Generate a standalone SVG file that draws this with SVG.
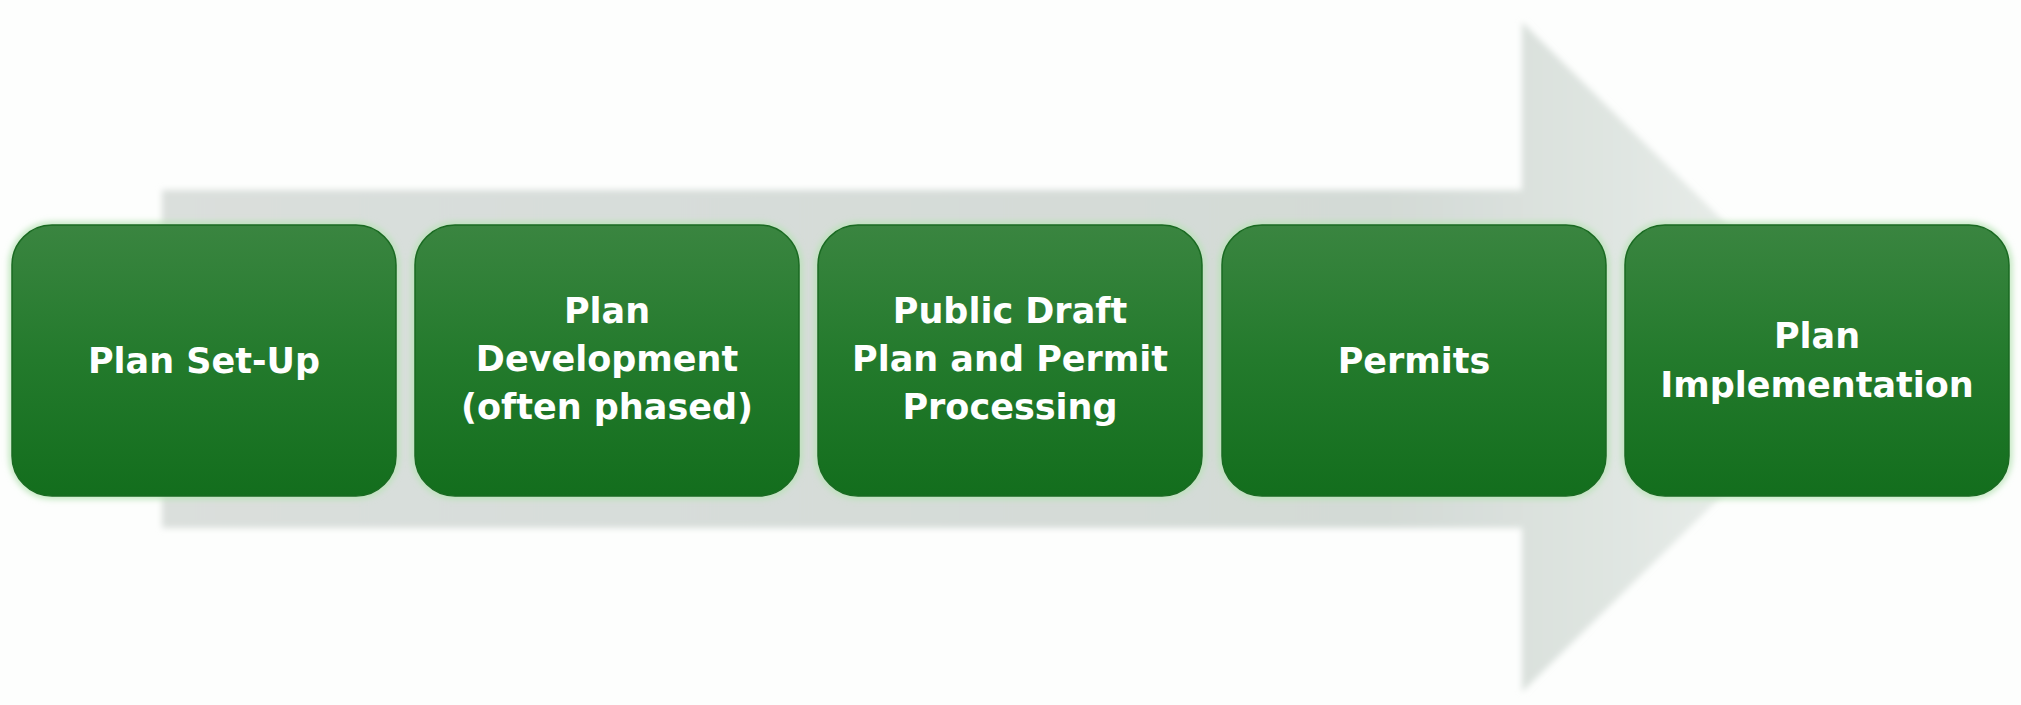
<svg xmlns="http://www.w3.org/2000/svg" width="2021" height="705" viewBox="0 0 2021 705">
  <defs>
    <linearGradient id="arrowGrad" x1="0" y1="0" x2="1" y2="0">
      <stop offset="0" stop-color="#dadfdc"/>
      <stop offset="0.72" stop-color="#d3dad6"/>
      <stop offset="0.85" stop-color="#dfe5e1"/>
      <stop offset="1" stop-color="#eef2ef"/>
    </linearGradient>
    <linearGradient id="boxGrad" x1="0" y1="0" x2="0" y2="1">
      <stop offset="0" stop-color="#3a8540"/>
      <stop offset="0.5" stop-color="#237a2c"/>
      <stop offset="1" stop-color="#136e1d"/>
    </linearGradient>
    <filter id="soft" x="-5%" y="-5%" width="110%" height="110%">
      <feGaussianBlur stdDeviation="3"/>
    </filter>
    <filter id="glow" x="-5%" y="-10%" width="110%" height="120%">
      <feGaussianBlur stdDeviation="3"/>
    </filter>
    <style>
      .glow { fill: none; stroke: #b7e3b5; stroke-width: 6; filter: url(#glow); }
      .box { fill: url(#boxGrad); stroke: #1a6a22; stroke-width: 1.5; }
      .lbl { font-family: "DejaVu Sans", "Liberation Sans", sans-serif; font-weight: bold; font-size: 35px; fill: #ffffff; text-anchor: middle; }
    </style>
  </defs>
  <rect x="0" y="0" width="2021" height="705" fill="#fdfefd"/>
  <g id="connectors">
    <path d="M162,190 L1522,190 L1522,22 L1862,358 L1522,692 L1522,528 L162,528 Z" fill="url(#arrowGrad)" filter="url(#soft)"/>
  </g>
  <g id="node1">
    <rect class="glow" x="12" y="225" width="384" height="271" rx="40"/>
    <rect class="box" x="12" y="225" width="384" height="271" rx="40"/>
    <text class="lbl" x="204" y="373">Plan Set-Up</text>
  </g>
  <g id="node2">
    <rect class="glow" x="415" y="225" width="384" height="271" rx="40"/>
    <rect class="box" x="415" y="225" width="384" height="271" rx="40"/>
    <text class="lbl" x="607" y="323">Plan</text>
    <text class="lbl" x="607" y="371">Development</text>
    <text class="lbl" x="607" y="419">(often phased)</text>
  </g>
  <g id="node3">
    <rect class="glow" x="818" y="225" width="384" height="271" rx="40"/>
    <rect class="box" x="818" y="225" width="384" height="271" rx="40"/>
    <text class="lbl" x="1010" y="323">Public Draft</text>
    <text class="lbl" x="1010" y="371">Plan and Permit</text>
    <text class="lbl" x="1010" y="419">Processing</text>
  </g>
  <g id="node4">
    <rect class="glow" x="1222" y="225" width="384" height="271" rx="40"/>
    <rect class="box" x="1222" y="225" width="384" height="271" rx="40"/>
    <text class="lbl" x="1414" y="373">Permits</text>
  </g>
  <g id="node5">
    <rect class="glow" x="1625" y="225" width="384" height="271" rx="40"/>
    <rect class="box" x="1625" y="225" width="384" height="271" rx="40"/>
    <text class="lbl" x="1817" y="348">Plan</text>
    <text class="lbl" x="1817" y="397">Implementation</text>
  </g>
</svg>
